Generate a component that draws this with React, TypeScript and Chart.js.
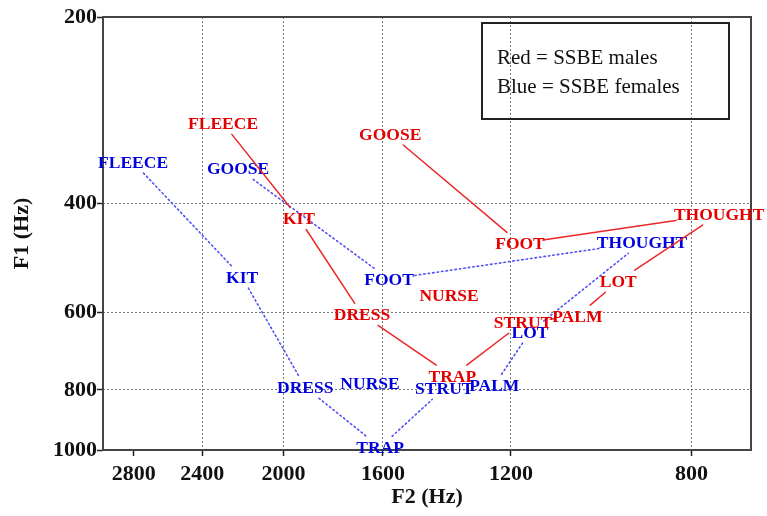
import React, { useEffect, useRef } from "react";
import { Chart, registerables } from "chart.js";

Chart.register(...registerables);

const VOWELS = ["FLEECE", "KIT", "DRESS", "TRAP", "STRUT", "PALM", "LOT", "THOUGHT", "FOOT", "GOOSE", "NURSE"];
const MALE_F2 = [2291, 1932, 1677, 1369, 1168, 1034, 943, 752, 1176, 1574, 1379];
const MALE_F1 = [297, 423, 604, 760, 622, 608, 534, 416, 464, 309, 563];
const FEMALE_F2 = [2804, 2195, 1905, 1610, 1394, 1246, 1150, 894, 1578, 2215, 1647];
const FEMALE_F1 = [343, 526, 792, 990, 795, 786, 645, 462, 530, 351, 780];
const CHAIN = ["FLEECE", "KIT", "DRESS", "TRAP", "STRUT", "PALM", "LOT", "THOUGHT", "FOOT", "GOOSE"];
const X_TICKS = [800, 1200, 1600, 2000, 2400, 2800];
const Y_TICKS = [200, 400, 600, 800, 1000];
const LEGEND_LINES = ["Red = SSBE males", "Blue = SSBE females"];
const X_TITLE = "F2 (Hz)";
const Y_TITLE = "F1 (Hz)";

const SERIF = '"Liberation Serif", "DejaVu Serif", serif';
const LABEL_FONT = `bold 17.5px ${SERIF}`;

const labelPlugin = {
  id: "vowelLabels",
  afterDatasetsDraw(chart: any) {
    const ctx = chart.ctx;
    const { left, right, top, bottom } = chart.chartArea;
    // frame
    ctx.save();
    ctx.strokeStyle = "#444";
    ctx.lineWidth = 2;
    ctx.strokeRect(left, top, right - left, bottom - top);
    ctx.restore();

    const order = [1, 0];
    for (const di of order) {
      const ds = chart.data.datasets[di];
      const meta = chart.getDatasetMeta(di);
      ctx.save();
      ctx.font = LABEL_FONT;
      const boxes: any = {};
      VOWELS.forEach((v, i) => {
        const p = meta.data[i];
        const w = ctx.measureText(v).width;
        boxes[v] = { x: p.x, y: p.y, hw: w / 2 - 2, hh: 11 };
      });
      // lines
      ctx.strokeStyle = ds.lineColor;
      ctx.lineWidth = ds.lineW;
      ctx.setLineDash(ds.dash);
      ctx.lineCap = "round";
      for (let k = 0; k < CHAIN.length - 1; k++) {
        const a = boxes[CHAIN[k]];
        const b = boxes[CHAIN[k + 1]];
        const dx = b.x - a.x;
        const dy = b.y - a.y;
        const ta = Math.min(dx !== 0 ? a.hw / Math.abs(dx) : Infinity, dy !== 0 ? a.hh / Math.abs(dy) : Infinity);
        const tb = 1 - Math.min(dx !== 0 ? b.hw / Math.abs(dx) : Infinity, dy !== 0 ? b.hh / Math.abs(dy) : Infinity);
        if (ta >= tb) continue;
        ctx.beginPath();
        ctx.moveTo(a.x + dx * ta, a.y + dy * ta);
        ctx.lineTo(a.x + dx * tb, a.y + dy * tb);
        ctx.stroke();
      }
      ctx.setLineDash([]);
      // labels
      ctx.fillStyle = ds.textColor;
      ctx.textAlign = "center";
      ctx.textBaseline = "middle";
      VOWELS.forEach((v) => {
        const b = boxes[v];
        ctx.fillText(v, b.x, b.y + 1);
      });
      ctx.restore();
    }

    // legend box
    ctx.save();
    ctx.strokeStyle = "#222";
    ctx.lineWidth = 2;
    ctx.strokeRect(482, 23, 247, 96);
    ctx.fillStyle = "#111";
    ctx.font = `21px ${SERIF}`;
    ctx.textAlign = "left";
    ctx.textBaseline = "middle";
    ctx.fillText(LEGEND_LINES[0], 497, 58);
    ctx.fillText(LEGEND_LINES[1], 497, 87);
    ctx.restore();
  },
};

export default function App() {
  const ref = useRef<HTMLCanvasElement>(null);
  useEffect(() => {
    if (!ref.current) return;
    const males = MALE_F2.map((x, i) => ({ x, y: MALE_F1[i] }));
    const females = FEMALE_F2.map((x, i) => ({ x, y: FEMALE_F1[i] }));
    const chart = new Chart(ref.current, {
      type: "scatter",
      data: {
        datasets: [
          {
            label: "SSBE males",
            data: males,
            pointRadius: 0,
            pointHoverRadius: 0,
            textColor: "rgb(228,0,0)",
            lineColor: "rgb(235,40,40)",
            lineW: 1.5,
            dash: [],
          } as any,
          {
            label: "SSBE females",
            data: females,
            pointRadius: 0,
            pointHoverRadius: 0,
            textColor: "rgb(0,0,220)",
            lineColor: "rgb(80,80,245)",
            lineW: 1.6,
            dash: [1.5, 3],
          } as any,
        ],
      },
      options: {
        animation: false,
        responsive: false,
        devicePixelRatio: 1,
        events: [],
        layout: { padding: { top: 17, right: 16, left: 0, bottom: 0 } },
        plugins: { legend: { display: false }, tooltip: { enabled: false } },
        scales: {
          x: {
            type: "logarithmic",
            reverse: true,
            min: 700,
            max: 3000,
            afterBuildTicks: (s: any) => {
              s.ticks = X_TICKS.map((v) => ({ value: v }));
            },
            afterFit: (s: any) => {
              s.height = 66;
            },
            ticks: {
              callback: (v: any) => String(v),
              font: { family: SERIF, size: 22, weight: "bold" },
              color: "#111",
              padding: 5,
              maxRotation: 0,
              autoSkip: false,
            },
            grid: {
              color: (c: any) => (c.tick && c.tick.value === 2800 ? "rgba(0,0,0,0)" : "#777"),
              lineWidth: 1,
              tickLength: 6,
              tickColor: "#222",
              tickWidth: 1.5,
            },
            border: { display: false, dash: [2, 2] },
            title: {
              display: true,
              text: X_TITLE,
              font: { family: SERIF, size: 22, weight: "bold" },
              color: "#111",
              padding: { top: 0, bottom: 5 },
            },
          },
          y: {
            type: "logarithmic",
            reverse: true,
            min: 200,
            max: 1000,
            afterBuildTicks: (s: any) => {
              s.ticks = Y_TICKS.map((v) => ({ value: v }));
            },
            afterFit: (s: any) => {
              s.width = 103;
            },
            ticks: {
              callback: (v: any) => String(v),
              font: { family: SERIF, size: 22, weight: "bold" },
              color: "#111",
              padding: 0,
              autoSkip: false,
            },
            grid: {
              color: "#777",
              lineWidth: 1,
              tickLength: 6,
              tickColor: "#222",
              tickWidth: 1.5,
            },
            border: { display: false, dash: [2, 2] },
            title: {
              display: true,
              text: Y_TITLE,
              font: { family: SERIF, size: 22, weight: "bold" },
              color: "#111",
              padding: { top: 9, bottom: 0 },
            },
          },
        },
      } as any,
      plugins: [labelPlugin],
    });
    return () => chart.destroy();
  }, []);
  return (
    <div style={{ position: "fixed", left: 0, top: 0, width: 767, height: 516, background: "#fff" }}>
      <canvas ref={ref} width={767} height={516} style={{ width: 767, height: 516 }} />
    </div>
  );
}
